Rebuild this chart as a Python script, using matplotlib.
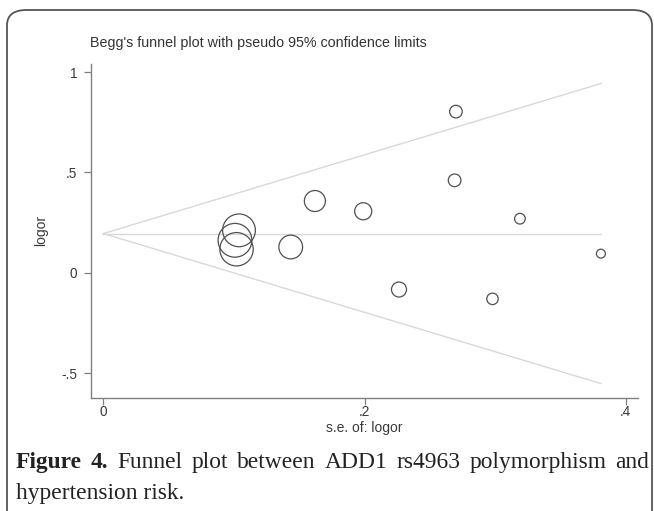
import matplotlib
matplotlib.use("Agg")
import matplotlib.pyplot as plt
import numpy as np
from matplotlib.patches import FancyBboxPatch

# ---- data ----
se = [0.1039, 0.1008, 0.1020, 0.1435, 0.162, 0.199, 0.2264, 0.269, 0.270, 0.298, 0.319, 0.381]
logor = [0.212, 0.1625, 0.118, 0.129, 0.358, 0.307, -0.0825, 0.461, 0.803, -0.129, 0.270, 0.096]
pooled = 0.196
se_max = 0.381
xticks = [0, 0.2, 0.4]
xtick_labels = ["0", ".2", ".4"]
yticks = [-0.5, 0, 0.5, 1]
ytick_labels = ["-.5", "0", ".5", "1"]
title = "Begg's funnel plot with pseudo 95% confidence limits"
xlabel = "s.e. of: logor"
ylabel = "logor"
caption1 = ["Figure", "4.", "Funnel", "plot", "between", "ADD1", "rs4963", "polymorphism", "and"]
caption1_bold = [True, True, False, False, False, False, False, False, False]
caption2 = "hypertension risk."

W, H = 654, 511
fig = plt.figure(figsize=(W / 100, H / 100), dpi=100)
fig.patch.set_facecolor("white")

def fx(px):
    return px / W

def fy(py):
    return 1 - py / H

# frame
frame = FancyBboxPatch((fx(7), fy(528)), fx(652) - fx(7), fy(10) - fy(528),
                       boxstyle="round,pad=0,rounding_size=0.03",
                       transform=fig.transFigure, facecolor="none",
                       edgecolor="#555555", linewidth=1.3, clip_on=False)
fig.patches.append(frame)

# axes
left, right, top, bottom = 90.7, 638, 64, 397.7
ax = fig.add_axes([fx(left), fy(bottom), fx(right) - fx(left), fy(top) - fy(bottom)])
ax.set_facecolor("none")
ax.set_xlim(-0.00965, 0.4094)
ax.set_ylim(-0.621, 1.04)
for s in ["top", "right"]:
    ax.spines[s].set_visible(False)
for s in ["left", "bottom"]:
    ax.spines[s].set_color("#808080")
    ax.spines[s].set_linewidth(1.0)

sans = ["Liberation Sans", "DejaVu Sans"]
tick_font = dict(family=sans, size=9.8, color="#3a3a3a")
ax.set_xticks(xticks)
ax.set_xticklabels(xtick_labels, **tick_font)
ax.set_yticks(yticks)
ax.set_yticklabels(ytick_labels, **tick_font)
ax.tick_params(axis="both", direction="out", length=4.8, width=0.9, color="#808080")
ax.tick_params(axis="y", pad=5)
ax.tick_params(axis="x", pad=0.8)

# funnel lines
se_line = np.array([0.0, se_max])
ax.plot(se_line, [pooled, pooled], color="#d8d8d8", lw=1.0, zorder=1)
ax.plot(se_line, pooled + 1.96 * se_line, color="#d8d8d8", lw=1.0, zorder=1)
ax.plot(se_line, pooled - 1.96 * se_line, color="#d8d8d8", lw=1.0, zorder=1)

# points (size ~ 1/se)
se_arr = np.array(se)
sizes = (2.45 / se_arr) ** 2
ax.scatter(se, logor, s=sizes, facecolors="none", edgecolors="#505050", linewidths=0.9, zorder=3)

# labels
fig.text(fx(90), fy(43), title, ha="left", va="center",
         family=sans, size=10.3, color="#333333")
fig.text(fx((left + right) / 2), fy(427.5), xlabel, ha="center", va="center",
         family=sans, size=10.0, color="#3a3a3a")
fig.text(fx(41), fy((top + bottom) / 2), ylabel, ha="center", va="center", rotation=90,
         family=sans, size=10.0, color="#3a3a3a")

# caption line 1 (justified)
cap_font = dict(family=["Liberation Serif", "DejaVu Serif"], size=16.9, color="#222222")
renderer = fig.canvas.get_renderer()
texts = []
for w, b in zip(caption1, caption1_bold):
    t = fig.text(0, fy(468), w, ha="left", va="baseline",
                 weight="bold" if b else "normal", **cap_font)
    texts.append(t)
widths = [t.get_window_extent(renderer).width for t in texts]
x0, x1 = 16, 649
gap = (x1 - x0 - sum(widths)) / (len(texts) - 1)
x = x0
for t, wd in zip(texts, widths):
    t.set_x(fx(x))
    x += wd + gap

fig.text(fx(16), fy(499), caption2, ha="left", va="baseline", **cap_font)

fig.savefig("out.png", dpi=100, facecolor="white")
